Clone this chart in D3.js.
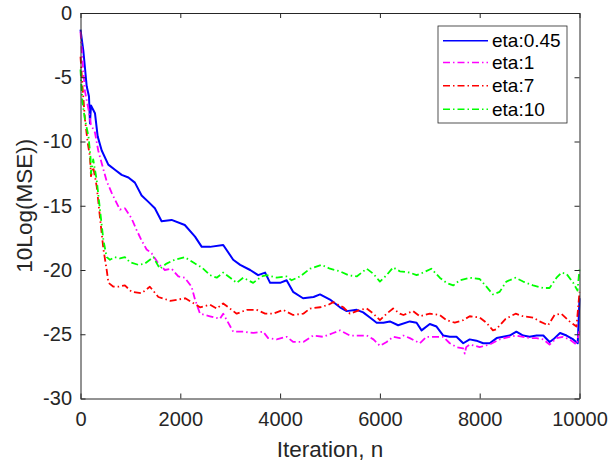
<!DOCTYPE html>
<html>
<head>
<meta charset="utf-8">
<script src="https://cdn.jsdelivr.net/npm/d3@7"></script>
<style>
  body { margin: 0; background: #fff; }
  svg { display: block; font-family: "Liberation Sans", Arial, Helvetica, sans-serif; }
  .axis text { fill: #262626; font-size: 20px; font-family: "Liberation Sans", Arial, Helvetica, sans-serif; }
  .axis line, .axis path { stroke: #262626; }
</style>
</head>
<body>
<div id="chart"></div>
<script>
// eta 0.45 (blue, solid)
var iterBlue = [0,56,124,170,190,210,290,344,425,557,690,825,960,1090,1225,1360,1490,1625,1825,2090,2295,2430,2595,2860,3060,3200,3400,3560,3700,3800,4000,4130,4260,4460,4670,4800,5000,5200,5335,5535,5665,5800,5935,6070,6200,6365,6600,6735,6835,7000,7135,7270,7400,7535,7670,7800,7935,8070,8200,8340,8470,8600,8735,8870,9000,9140,9275,9400,9475,9610,9740,9875,9965,10000];
var mseBlue = [-1.3,-2.9,-5.7,-6.5,-8.6,-7.2,-7.8,-9.6,-10.7,-11.8,-12.2,-12.6,-12.8,-13.2,-14.2,-14.7,-15.2,-16.2,-16.1,-16.5,-17.4,-18.2,-18.2,-18.05,-19.2,-19.6,-20.0,-20.4,-20.2,-21.0,-21.0,-20.8,-21.7,-22.2,-22.1,-21.9,-22.3,-22.9,-23.2,-23.1,-23.3,-23.7,-24.1,-24.1,-24.0,-24.3,-24.0,-24.1,-24.7,-24.2,-24.4,-25.1,-25.2,-25.2,-25.7,-25.4,-25.5,-25.7,-25.7,-25.3,-25.2,-25.1,-24.8,-25.1,-25.2,-25.1,-25.1,-25.6,-25.4,-24.9,-25.1,-25.4,-25.7,-22.2];

// eta 1 (magenta)
var iterMagenta = [0,40,90,160,210,290,355,425,525,625,725,790,890,1025,1125,1225,1325,1425,1560,1690,1825,1960,2090,2225,2295,2395,2595,2795,2860,3060,3260,3460,3660,3760,3930,4130,4265,4465,4665,4865,5065,5200,5400,5600,5735,5870,6000,6135,6265,6400,6470,6600,6800,6935,7135,7270,7400,7535,7670,7700,7730,7800,8000,8200,8400,8600,8735,8870,9000,9140,9275,9400,9540,9670,9800,9940,10000];
var mseMagenta = [-1.45,-3.7,-6.1,-7.5,-8.7,-9.3,-10.7,-11.7,-13.1,-14.0,-14.8,-15.3,-15.2,-16.0,-16.9,-17.7,-18.4,-18.7,-19.5,-20.0,-19.9,-20.5,-20.6,-21.3,-22.3,-23.4,-23.6,-23.8,-23.4,-24.8,-24.8,-24.9,-24.8,-25.3,-25.4,-25.2,-25.6,-25.6,-25.1,-25.2,-24.9,-24.7,-25.1,-25.1,-25.1,-25.4,-25.9,-25.6,-25.2,-25.3,-25.1,-25.3,-25.7,-25.2,-25.2,-25.2,-25.7,-26.0,-26.1,-26.5,-26.0,-25.8,-26.0,-25.8,-25.4,-25.2,-25.1,-25.2,-25.3,-25.3,-25.4,-25.8,-25.3,-25.2,-25.4,-25.8,-24.7];

// eta 7 (red)
var iterRed = [0,40,90,145,190,210,255,325,390,460,525,560,660,760,890,1025,1225,1390,1560,1800,2100,2395,2595,2730,2860,3130,3330,3530,3700,3860,4060,4260,4465,4600,4800,4970,5065,5265,5400,5600,5735,5870,6000,6135,6265,6400,6470,6665,6800,7000,7200,7335,7500,7670,7800,8000,8135,8265,8335,8520,8720,8870,9070,9200,9370,9500,9635,9800,9940,10000];
var mseRed = [-3.4,-5.7,-8.3,-10.1,-11.2,-12.7,-12.0,-13.5,-15.9,-18.4,-20.0,-21.0,-21.3,-21.3,-21.2,-21.7,-21.8,-21.3,-22.1,-22.4,-22.2,-22.9,-22.7,-23.0,-22.6,-23.4,-23.1,-23.1,-23.4,-23.4,-23.1,-23.5,-23.4,-23.0,-22.9,-22.7,-22.5,-22.9,-23.4,-23.1,-23.0,-23.4,-23.9,-23.4,-23.0,-23.4,-23.5,-23.2,-23.6,-23.4,-23.5,-23.9,-24.1,-23.9,-23.6,-23.7,-24.1,-24.7,-24.6,-23.8,-23.4,-23.6,-23.7,-24.0,-24.3,-23.5,-23.4,-24.0,-24.4,-21.7];

// eta 10 (green)
var iterGreen = [0,40,90,160,200,210,255,325,390,460,525,590,690,790,890,990,1160,1290,1460,1590,1725,1890,2090,2295,2430,2595,2730,2860,3000,3130,3260,3460,3630,3730,3930,4130,4230,4400,4600,4830,5000,5200,5365,5535,5735,5870,6000,6135,6265,6400,6600,6735,6870,7030,7200,7335,7470,7600,7800,8000,8135,8265,8400,8535,8720,8870,9070,9275,9400,9540,9640,9740,9875,9960,10000];
var mseGreen = [-4.4,-7.0,-8.3,-9.6,-11.2,-12.5,-11.4,-13.0,-15.3,-17.7,-19.0,-19.2,-19.0,-19.1,-19.0,-19.4,-19.6,-19.5,-19.0,-19.9,-19.5,-19.2,-19.0,-19.5,-19.8,-20.4,-20.6,-20.2,-20.6,-21.0,-20.6,-21.0,-20.5,-20.4,-20.6,-20.5,-20.8,-20.5,-19.9,-19.6,-19.9,-20.1,-20.4,-20.5,-19.9,-20.3,-20.9,-20.4,-19.8,-20.1,-20.2,-20.4,-20.2,-19.9,-20.6,-21.0,-21.2,-20.8,-20.6,-20.7,-21.3,-21.9,-21.7,-20.9,-20.6,-20.9,-21.2,-21.4,-21.4,-20.6,-20.2,-20.3,-21.0,-21.6,-19.9];

var seriesNames = ["eta:0.45", "eta:1", "eta:7", "eta:10"];
var xTicks = [0, 2000, 4000, 6000, 8000, 10000];
var yTicks = [0, -5, -10, -15, -20, -25, -30];

function drawChart() {

    var series = [
        {name: seriesNames[0], iter: iterBlue, mse: mseBlue, color: "#0000ff", dash: null, width: 2},
        {name: seriesNames[1], iter: iterMagenta, mse: mseMagenta, color: "#ff00ff", dash: "7,3,1.5,3", width: 1.8},
        {name: seriesNames[2], iter: iterRed, mse: mseRed, color: "#ff0000", dash: "7,3,1.5,3", width: 1.8},
        {name: seriesNames[3], iter: iterGreen, mse: mseGreen, color: "#00ff00", dash: "7,3,1.5,3", width: 1.8}
    ];

    var W = 611, H = 463;
    var pLeft = 80.5, pRight = 579.5, pTop = 13, pBottom = 398.5;

    var x = d3.scaleLinear().domain([0, 10000]).range([pLeft, pRight]);
    var y = d3.scaleLinear().domain([-30, 0]).range([pBottom, pTop]);

    var svg = d3.select("#chart").append("svg")
        .attr("width", W)
        .attr("height", H);

    // curves
    var line = d3.line()
        .x(function (d) { return x(d[0]); })
        .y(function (d) { return y(d[1]); });

    series.forEach(function (s) {
        var pts = s.iter.map(function (n, i) { return [n, s.mse[i]]; });
        svg.append("path")
            .attr("d", line(pts))
            .attr("fill", "none")
            .attr("stroke", s.color)
            .attr("stroke-width", s.width)
            .attr("stroke-linejoin", "round")
            .attr("stroke-dasharray", s.dash);
    });

    // axes (ticks inside, MATLAB style box), plain hyphen for negatives
    var fmt = function (d) { return String(d); };
    svg.append("g").attr("class", "axis")
        .attr("transform", "translate(0," + pBottom + ")")
        .call(d3.axisBottom(x).tickValues(xTicks).tickFormat(fmt).tickSizeInner(-5).tickSizeOuter(0).tickPadding(13));

    svg.append("g").attr("class", "axis")
        .attr("transform", "translate(" + pLeft + ",0)")
        .call(d3.axisLeft(y).tickValues(yTicks).tickFormat(fmt).tickSizeInner(-5).tickSizeOuter(0).tickPadding(8.5));

    svg.append("g").attr("class", "axis")
        .attr("transform", "translate(0," + pTop + ")")
        .call(d3.axisTop(x).tickValues(xTicks).tickSizeInner(-5).tickSizeOuter(0).tickFormat(""));

    svg.append("g").attr("class", "axis")
        .attr("transform", "translate(" + pRight + ",0)")
        .call(d3.axisRight(y).tickValues(yTicks).tickSizeInner(-5).tickSizeOuter(0).tickFormat(""));

    // axis labels
    svg.append("text")
        .attr("x", (pLeft + pRight) / 2)
        .attr("y", 457)
        .attr("text-anchor", "middle")
        .attr("font-size", "22.5px")
        .attr("fill", "#262626")
        .text("Iteration, n");

    svg.append("text")
        .attr("transform", "translate(32," + ((pTop + pBottom) / 2) + ") rotate(-90)")
        .attr("text-anchor", "middle")
        .attr("font-size", "22.5px")
        .attr("fill", "#262626")
        .text("10Log(MSE))");

    // legend
    var legend = svg.append("g");
    legend.append("rect")
        .attr("x", 438).attr("y", 26)
        .attr("width", 129).attr("height", 97)
        .attr("fill", "#fff")
        .attr("stroke", "#262626")
        .attr("stroke-width", 0.8);

    var legendRows = [40.7, 62.5, 85.7, 109.3];
    series.forEach(function (s, i) {
        legend.append("line")
            .attr("x1", 443).attr("x2", 488)
            .attr("y1", legendRows[i]).attr("y2", legendRows[i])
            .attr("stroke", s.color)
            .attr("stroke-width", 1.5)
            .attr("stroke-dasharray", s.dash);
        legend.append("text")
            .attr("x", 492)
            .attr("y", legendRows[i])
            .attr("dy", "0.35em")
            .attr("font-size", "19px")
            .attr("fill", "#000")
            .text(s.name);
    });
}

drawChart();
</script>
</body>
</html>
